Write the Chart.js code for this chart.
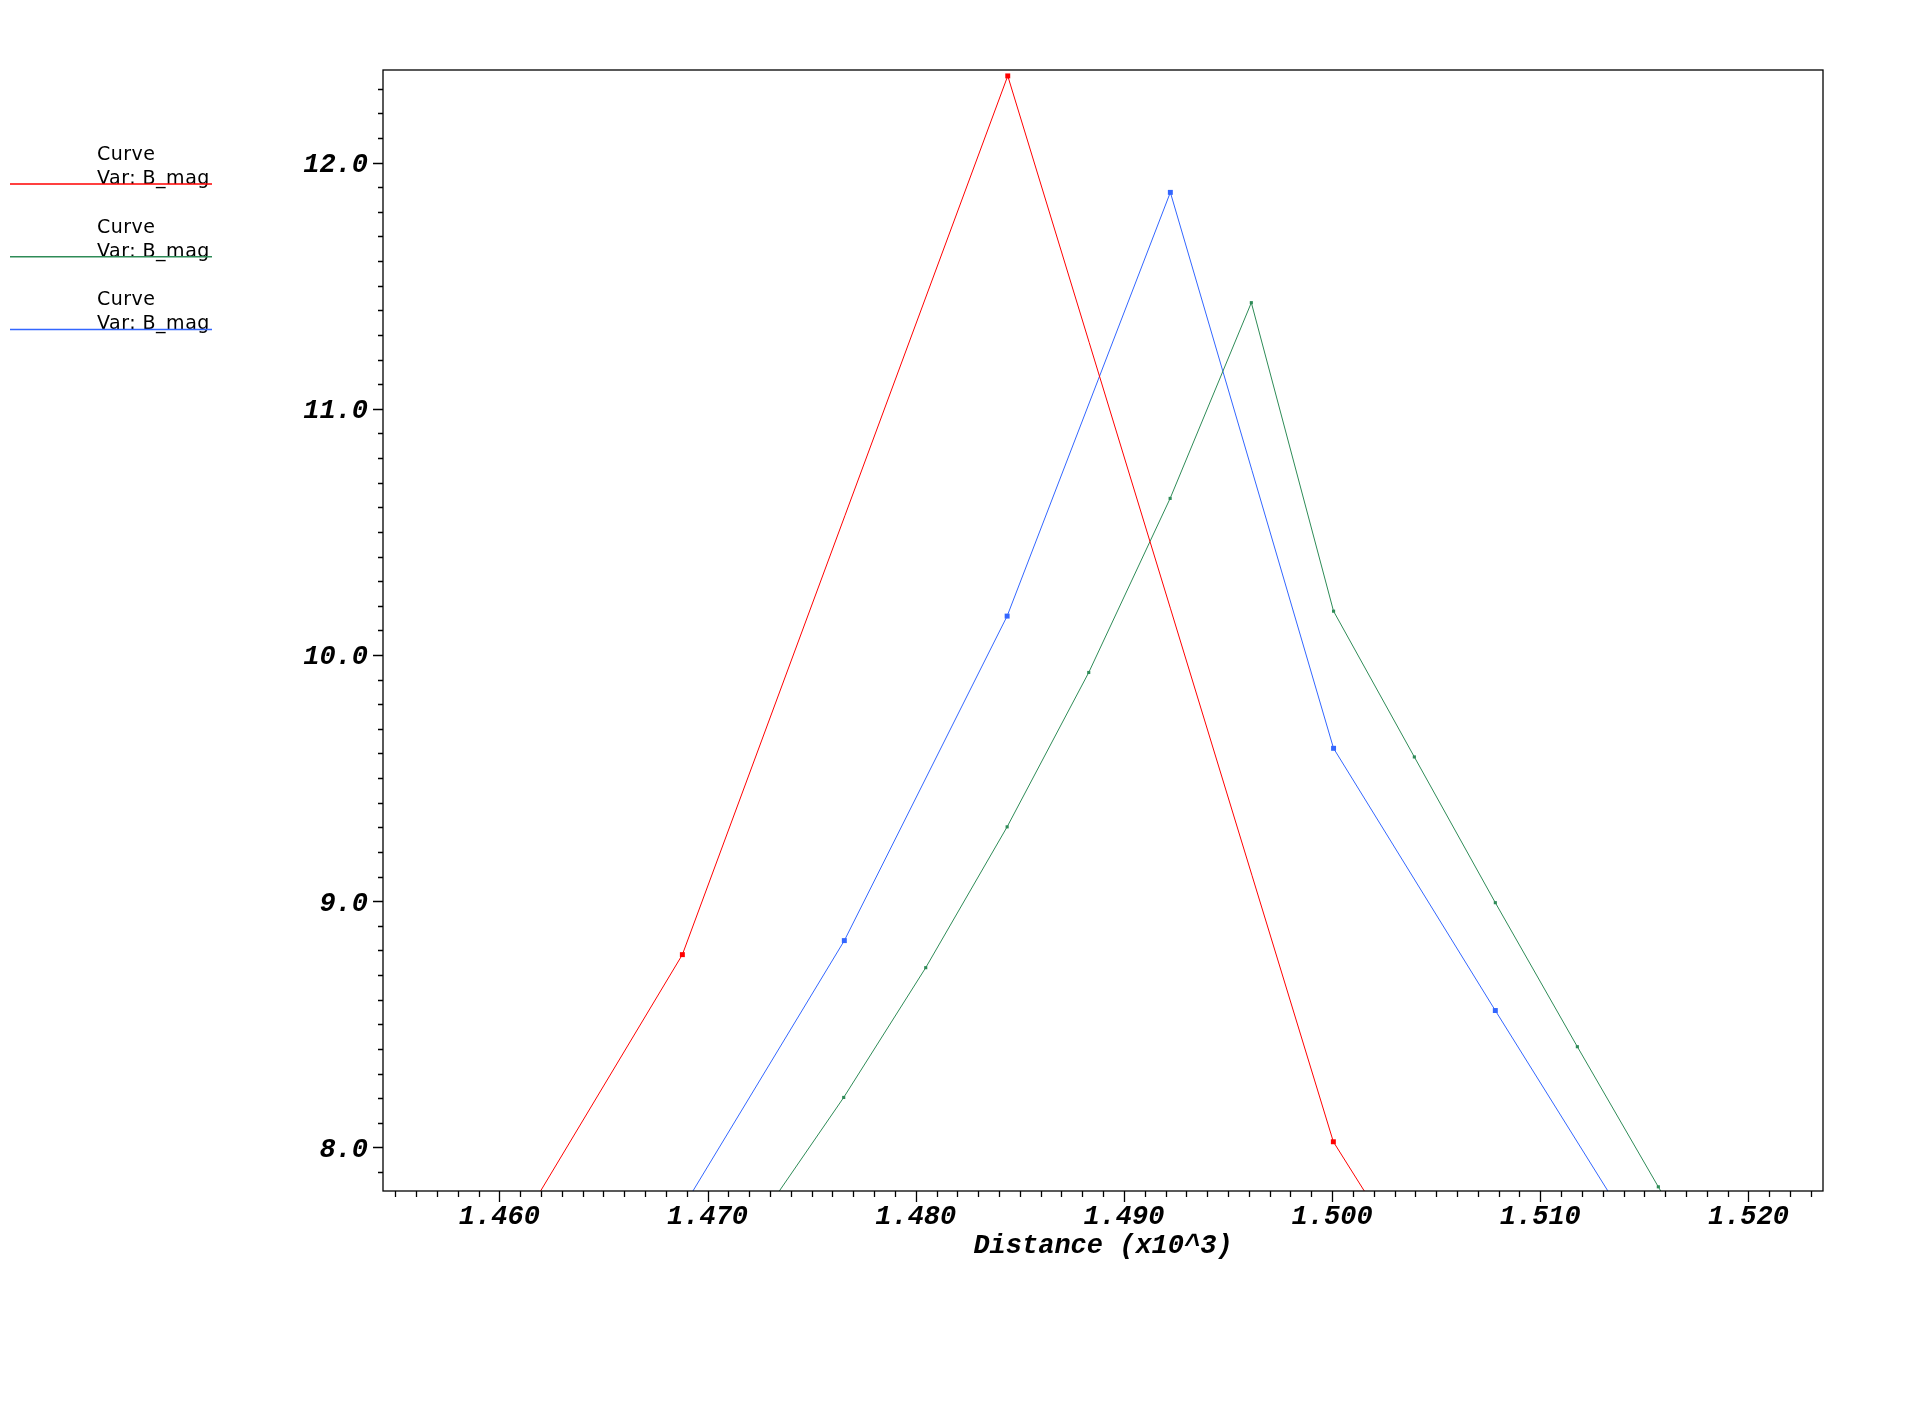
<!DOCTYPE html>
<html>
<head>
<meta charset="utf-8">
<script src="https://cdn.jsdelivr.net/npm/chart.js@4.4.0/dist/chart.umd.min.js"></script>
<style>
  body { margin: 0; background: #fff; }
  canvas { display: block; }
</style>
</head>
<body>
<canvas id="chart" width="1920" height="1402"></canvas>
<script>
// distance values are in units of x10^3, as on the axis
const redX = [1.45316, 1.46879, 1.48442, 1.50006, 1.51569];
const redY = [6.580, 8.783, 12.352, 8.023, 5.920];

const greenX = [1.47265, 1.47654, 1.48048, 1.48439, 1.48831, 1.49222, 1.49612, 1.50007, 1.50395, 1.50784, 1.51178, 1.51567, 1.51958];
const greenY = [7.725, 8.203, 8.730, 9.302, 9.929, 10.636, 11.431, 10.178, 9.586, 8.994, 8.409, 7.840, 7.268];

const blueX = [1.46876, 1.47657, 1.48439, 1.49223, 1.50007, 1.50784, 1.51566];
const blueY = [7.748, 8.840, 10.158, 11.879, 9.621, 8.556, 7.496];

const xTicks = [1.46, 1.47, 1.48, 1.49, 1.50, 1.51, 1.52];
const yTicks = [8, 9, 10, 11, 12];

const curveNames = ['Curve', 'Curve', 'Curve'];
const varNames = ['Var: B_mag', 'Var: B_mag', 'Var: B_mag'];
const curveColors = ['#ff0000', '#2e8b57', '#3366ff'];

function toPoints(xs, ys) {
  return xs.map((x, i) => ({ x: x, y: ys[i] }));
}

const tickFont = { family: "'Liberation Mono', 'DejaVu Sans Mono', monospace", size: 27, weight: 'bold', style: 'italic' };

// frame, minor/major tick marks and the legend on the left
const framePlugin = {
  id: 'frame',
  afterDraw(chart) {
    const ctx = chart.ctx;
    const area = chart.chartArea;
    const sx = chart.scales.x;
    const sy = chart.scales.y;
    ctx.save();
    ctx.strokeStyle = '#000';
    ctx.lineWidth = 1.3;
    ctx.strokeRect(area.left, area.top, area.right - area.left, area.bottom - area.top);
    ctx.beginPath();
    for (let i = 1455; i <= 1523; i++) {
      const px = Math.round(sx.getPixelForValue(i / 1000)) + 0.5;
      const len = i % 10 === 0 ? 11 : 6;
      ctx.moveTo(px, area.bottom);
      ctx.lineTo(px, area.bottom + len);
    }
    for (let j = 79; j <= 123; j++) {
      const py = Math.round(sy.getPixelForValue(j / 10)) + 0.5;
      const len = j % 10 === 0 ? 10 : 5;
      ctx.moveTo(area.left, py);
      ctx.lineTo(area.left - len, py);
    }
    ctx.stroke();

    // legend
    ctx.font = "19px 'DejaVu Sans', sans-serif";
    ctx.letterSpacing = '0.5px';
    ctx.fillStyle = '#000';
    ctx.textAlign = 'left';
    ctx.textBaseline = 'alphabetic';
    for (let k = 0; k < curveNames.length; k++) {
      const y0 = 160 + k * 72.7;
      ctx.fillText(curveNames[k], 97, y0);
      ctx.fillText(varNames[k], 97, y0 + 24);
      ctx.strokeStyle = curveColors[k];
      ctx.lineWidth = 1.5;
      ctx.beginPath();
      ctx.moveTo(10, y0 + 24);
      ctx.lineTo(212, y0 + 24);
      ctx.stroke();
    }
    ctx.restore();
  }
};

function makeSet(xs, ys, color, r) {
  return {
    label: 'Curve Var: B_mag',
    data: toPoints(xs, ys),
    borderColor: color,
    backgroundColor: color,
    borderWidth: 1,
    pointStyle: 'rect',
    pointRadius: r,
    pointBorderWidth: 0,
    pointBackgroundColor: color,
    tension: 0
  };
}

new Chart(document.getElementById('chart'), {
  type: 'line',
  data: {
    datasets: [
      makeSet(redX, redY, curveColors[0], 3.5),
      makeSet(greenX, greenY, curveColors[1], 2.2),
      makeSet(blueX, blueY, curveColors[2], 3.5)
    ]
  },
  options: {
    responsive: false,
    animation: false,
    devicePixelRatio: 1,
    layout: { padding: { left: 0, top: 70, right: 97, bottom: 0 } },
    plugins: {
      legend: { display: false },
      tooltip: { enabled: false }
    },
    scales: {
      x: {
        type: 'linear',
        min: 1.45441,
        max: 1.52358,
        afterBuildTicks: (scale) => { scale.ticks = xTicks.map(v => ({ value: v })); },
        afterFit: (scale) => { scale.height = 211; },
        grid: { display: false, drawTicks: false },
        border: { display: false },
        ticks: {
          autoSkip: false,
          maxRotation: 0,
          padding: 10,
          color: '#000',
          font: tickFont,
          callback: (v) => v.toFixed(3)
        },
        title: {
          display: true,
          text: 'Distance (x10^3)',
          color: '#000',
          font: tickFont,
          padding: { top: 0, bottom: 140 }
        }
      },
      y: {
        type: 'linear',
        min: 7.823,
        max: 12.376,
        afterBuildTicks: (scale) => { scale.ticks = yTicks.map(v => ({ value: v })); },
        afterFit: (scale) => { scale.width = 383; },
        grid: { display: false, drawTicks: false },
        border: { display: false },
        ticks: {
          autoSkip: false,
          padding: 15,
          labelOffset: 2.5,
          color: '#000',
          font: tickFont,
          callback: (v) => v.toFixed(1)
        }
      }
    }
  },
  plugins: [framePlugin]
});
</script>
</body>
</html>
